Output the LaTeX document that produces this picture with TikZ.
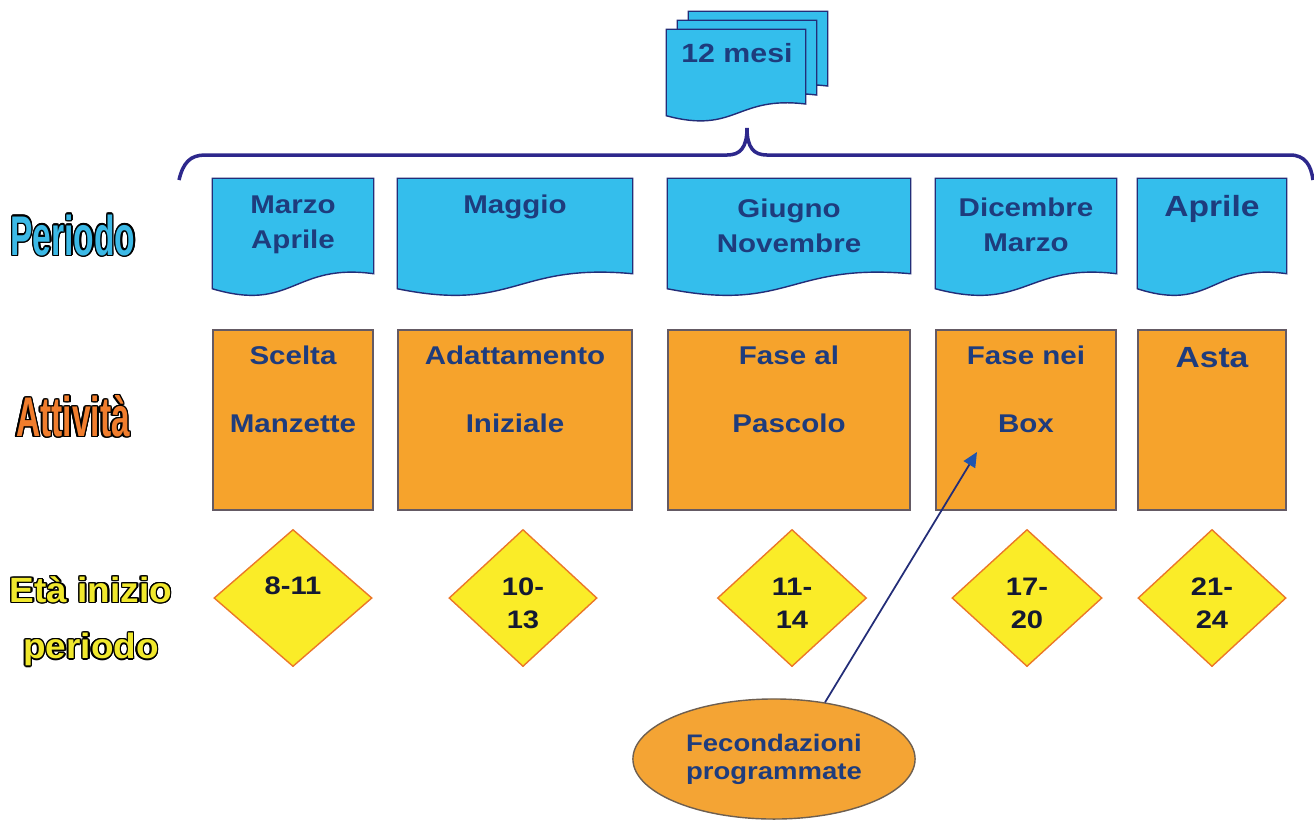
\documentclass[tikz,border=0pt]{standalone}
\usepackage{fontspec}
\setmainfont{Liberation Sans}[FakeStretch=1.15]
\newfontfamily\narrowfont{Liberation Sans}[FakeStretch=0.6]
\newfontfamily\widefont{Liberation Sans}[FakeStretch=1.05]
\usepackage{xcolor}
\usepackage{contour}
\contourlength{0.4pt}
\contournumber{16}
\usetikzlibrary{shapes.geometric, arrows.meta, calc}
\definecolor{percyan}{RGB}{52, 190, 236}
\definecolor{navy}{RGB}{35, 45, 120}
\definecolor{txtblue}{RGB}{30, 60, 125}
\definecolor{actorange}{RGB}{246, 163, 44}
\definecolor{actborder}{RGB}{100, 90, 100}
\definecolor{ageyellow}{RGB}{250, 236, 40}
\definecolor{ageborder}{RGB}{235, 120, 40}
\definecolor{fecorange}{RGB}{244, 164, 52}
\definecolor{fecborder}{RGB}{110, 95, 80}
\definecolor{pinblue}{RGB}{30, 85, 175}
\definecolor{braceblue}{RGB}{45, 40, 140}
\definecolor{labcyan}{RGB}{60, 185, 230}
\definecolor{laborange}{RGB}{240, 125, 45}
\definecolor{labyellow}{RGB}{240, 232, 45}

% document outline with wavy bottom: style, node, amplitude factor
\newcommand{\docoutline}[3]{%
  \draw[#1] (#2.north west) -- (#2.north east) -- ([yshift=#3*0.15cm]#2.south east)
    .. controls ([yshift=#3*0.26cm]#2.south) and ([yshift=-#3*0.24cm]#2.south) .. (#2.south west) -- cycle;}

\begin{document}
\begin{tikzpicture}[x=0.01cm, y=-0.01cm,
    slot/.style={rectangle, inner sep=0pt, minimum height=1.09cm},
    docfill/.style={fill=percyan, draw=navy, line width=0.4pt},
    act/.style={rectangle, draw=actborder, fill=actorange, line width=0.4pt, inner sep=0pt, minimum height=1.8cm},
    age/.style={diamond, draw=ageborder, fill=ageyellow, line width=0.4pt, inner sep=0pt, minimum height=1.37cm},
    boxtext/.style={font=\bfseries\fontsize{7.3}{10}\selectfont, text=txtblue, align=center},
    acttext/.style={font=\bfseries\fontsize{7.3}{19.3}\selectfont, text=txtblue, align=center},
    agetext/.style={font=\bfseries\fontsize{7.2}{9.4}\selectfont, text={rgb,255:red,20;green,25;blue,50}, align=center},
    rowlab/.style={align=center},
    brace/.style={draw=braceblue, line width=1pt},
    pin/.style={draw=navy, line width=0.5pt, -{Triangle[length=4.2pt, width=3.8pt, color=pinblue]}}]

    \useasboundingbox (0,0) rectangle (1314,820);

    % Twelve months stack
    \node[slot, minimum width=1.38cm, minimum height=0.85cm] (mes3) at (758,54.5) {};
    \node[slot, minimum width=1.38cm, minimum height=0.85cm] (mes2) at (747,63.5) {};
    \node[slot, minimum width=1.38cm, minimum height=0.85cm] (mes1) at (736,72.5) {};
    \docoutline{docfill}{mes3}{0.78}
    \docoutline{docfill}{mes2}{0.78}
    \docoutline{docfill}{mes1}{0.78}
    \node[font=\bfseries\fontsize{7.5}{9}\selectfont, text=txtblue] (mest) at (737,53) {12 mesi};

    % Brace
    \draw[brace] (179,180) .. controls (183,163) and (190,155) .. (205,155) -- (727,155)
        .. controls (740,155) and (747,148) .. (747,128)
        .. controls (747,148) and (754,155) .. (767,155) -- (1290,155)
        .. controls (1305,155) and (1311,165) .. (1313,180);

    % Row labels
    \node[rowlab, font=\narrowfont\bfseries\fontsize{15.9}{18}\selectfont] (labper) at (73,236)
        {\contour{black}{\textcolor{labcyan}{Periodo}}};
    \node[rowlab, font=\narrowfont\bfseries\fontsize{15.9}{18}\selectfont] (labatt) at (73,417)
        {\contour{black}{\textcolor{laborange}{Attività}}};
    \node[rowlab, font=\widefont\bfseries\fontsize{10}{16}\selectfont] (labeta) at (91,622)
        {\contour{black}{\textcolor{labyellow}{Età inizio}}\\\contour{black}{\textcolor{labyellow}{periodo}}};

    % Periods
    \node[slot, minimum width=1.60cm] (per1) at (293,233.5) {};
    \node[slot, minimum width=2.34cm] (per2) at (515,233.5) {};
    \node[slot, minimum width=2.42cm] (per3) at (789,233.5) {};
    \node[slot, minimum width=1.80cm] (per4) at (1026,233.5) {};
    \node[slot, minimum width=1.48cm] (per5) at (1212,233.5) {};
    \foreach \p in {per1,per2,per3,per4,per5} {\docoutline{docfill}{\p}{1}}
    \node[boxtext] (per1t) at (293,225) {Marzo\\Aprile};
    \node[boxtext] (per2t) at (515,207) {Maggio};
    \node[boxtext] (per3t) at (789,226) {Giugno\\Novembre};
    \node[boxtext] (per4t) at (1026,225) {Dicembre\\Marzo};
    \node[boxtext, font=\bfseries\fontsize{8.3}{10}\selectfont] (per5t) at (1212,209) {Aprile};

    % Activities
    \node[act, minimum width=1.60cm] (act1) at (293,420) {};
    \node[act, minimum width=2.34cm] (act2) at (515,420) {};
    \node[act, minimum width=2.42cm] (act3) at (789,420) {};
    \node[act, minimum width=1.80cm] (act4) at (1026,420) {};
    \node[act, minimum width=1.48cm] (act5) at (1212,420) {};
    \node[acttext] (act1t) at (293,389) {Scelta\\Manzette};
    \node[acttext] (act2t) at (515,389) {Adattamento\\Iniziale};
    \node[acttext] (act3t) at (789,389) {Fase al\\Pascolo};
    \node[acttext] (act4t) at (1026,389) {Fase nei\\Box};
    \node[acttext, font=\bfseries\fontsize{8.3}{10}\selectfont] (act5t) at (1212,358) {Asta};

    % Ages
    \node[age, minimum width=1.58cm] (age1) at (293,598) {};
    \node[age, minimum width=1.48cm] (age2) at (523,598) {};
    \node[age, minimum width=1.49cm] (age3) at (792,598) {};
    \node[age, minimum width=1.50cm] (age4) at (1027,598) {};
    \node[age, minimum width=1.48cm] (age5) at (1212,598) {};
    \node[agetext] (age1t) at (293,586) {8-11};
    \node[agetext] (age2t) at (523,603) {10-\\13};
    \node[agetext] (age3t) at (792,603) {11-\\14};
    \node[agetext] (age4t) at (1027,603) {17-\\20};
    \node[agetext] (age5t) at (1212,603) {21-\\24};

    % Fecondazioni
    \node[ellipse, draw=fecborder, fill=fecorange, line width=0.4pt, inner sep=0pt,
        minimum width=2.82cm, minimum height=1.2cm, align=center,
        font=\bfseries\fontsize{6.8}{8}\selectfont, text=txtblue] (fec) at (774,759)
        {Fecondazioni\\programmate};
    \coordinate (boxpin) at (977,452);
    \draw[pin] (fec.48) -- (boxpin);
\end{tikzpicture}
\end{document}
